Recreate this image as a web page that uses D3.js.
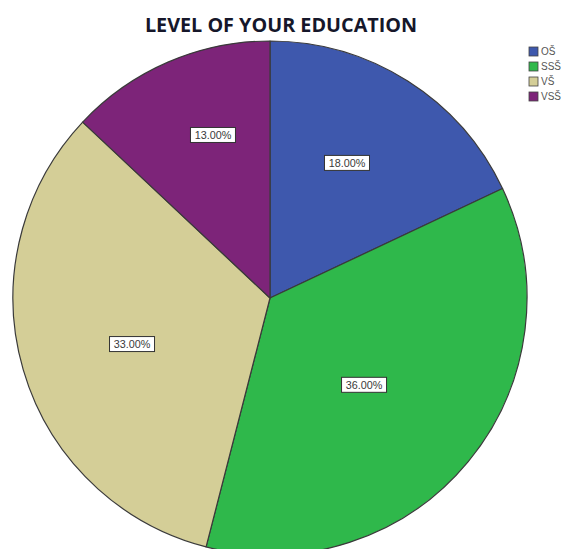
<!DOCTYPE html>
<html>
<head>
<meta charset="utf-8">
<script src="https://cdn.jsdelivr.net/npm/d3@7/dist/d3.min.js"></script>
<style>
  html, body { margin: 0; padding: 0; background: #fff; }
  svg { display: block; }
</style>
</head>
<body>
<svg id="chart" width="563" height="549"></svg>
<script>
// Education level shares (percent)
const categories = ["OŠ", "SSŠ", "VŠ", "VSŠ"];
const shares = [18, 36, 33, 13];
const colors = ["#3e58ad", "#2fb84b", "#d4ce97", "#7d2479"];
const titleText = "LEVEL OF YOUR EDUCATION";

// Label placement per slice: distance as a fraction of the radius,
// and position across the slice's angular span (0.5 = middle)
const labelRadius = [0.605, 0.498, 0.566, 0.672];
const labelSpan = [0.458, 0.524, 0.481, 0.588];

const svg = d3.select("#chart");
const cx = 270, cy = 298, r = 257;

svg.append("text")
  .attr("x", 281).attr("y", 32)
  .attr("text-anchor", "middle")
  .attr("font-family", "'Open Sans', Lato, sans-serif")
  .attr("font-weight", "bold")
  .attr("font-size", 19.8)
  .attr("fill", "#16172a")
  .text(titleText);

const pie = d3.pie().sort(null).value(d => d);
const arcs = pie(shares);
const arc = d3.arc().innerRadius(0).outerRadius(r);

const g = svg.append("g").attr("transform", `translate(${cx},${cy})`);

g.selectAll("path.slice")
  .data(arcs)
  .join("path")
  .attr("class", "slice")
  .attr("d", arc)
  .attr("fill", (d, i) => colors[i])
  .attr("stroke", "#3a3a3a")
  .attr("stroke-width", 1.2)
  .attr("stroke-linejoin", "round");

const fmt = v => d3.format(".2f")(v) + "%";

const labels = g.selectAll("g.lbl")
  .data(arcs)
  .join("g")
  .attr("class", "lbl")
  .attr("transform", (d, i) => {
    const a = d.startAngle + (d.endAngle - d.startAngle) * labelSpan[i];
    const rr = r * labelRadius[i];
    return `translate(${Math.sin(a) * rr},${-Math.cos(a) * rr})`;
  });

labels.append("rect")
  .attr("x", -22.5).attr("y", -7.5)
  .attr("width", 45).attr("height", 15)
  .attr("fill", "#fff")
  .attr("stroke", "#333")
  .attr("stroke-width", 1);

labels.append("text")
  .attr("text-anchor", "middle")
  .attr("dy", "0.36em")
  .attr("font-family", "'Liberation Sans', Arial, sans-serif")
  .attr("font-size", 10.8)
  .attr("fill", "#3a3a3a")
  .text(d => fmt(d.data));

// Legend
const legend = svg.append("g").attr("transform", "translate(529,47)");
const items = legend.selectAll("g")
  .data(categories)
  .join("g")
  .attr("transform", (d, i) => `translate(0,${i * 15})`);

items.append("rect")
  .attr("width", 9).attr("height", 9)
  .attr("fill", (d, i) => colors[i])
  .attr("stroke", "#444")
  .attr("stroke-width", 0.8);

items.append("text")
  .attr("x", 12).attr("y", 8)
  .attr("font-family", "'Liberation Sans', Arial, sans-serif")
  .attr("font-size", 10)
  .attr("fill", "#555")
  .text(d => d);
</script>
</body>
</html>
